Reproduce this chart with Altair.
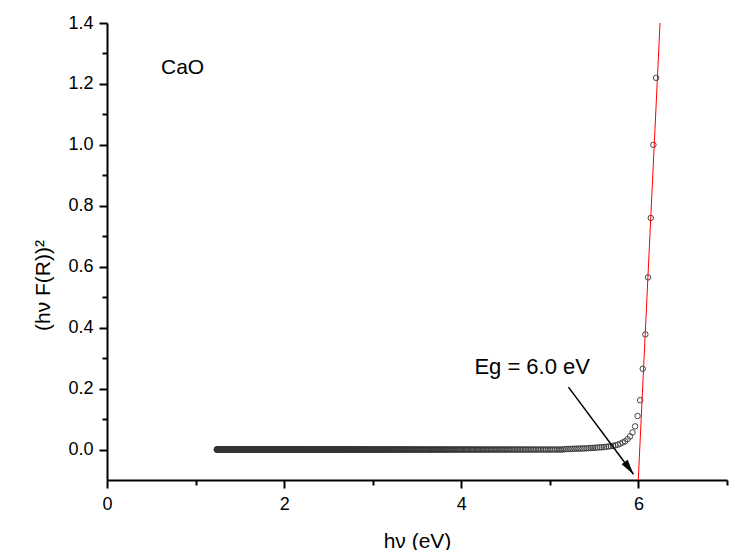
import altair as alt
import pandas as pd

# --- data ---
# resolvable points of the absorption edge (hv in eV, (hv F(R))^2)
tail_hv = [6.200, 6.169, 6.139, 6.108, 6.078, 6.049, 6.019, 5.990, 5.962, 5.933,
           5.905, 5.877, 5.849, 5.822, 5.794, 5.767, 5.741, 5.714, 5.688, 5.662,
           5.636, 5.611, 5.586, 5.561, 5.536, 5.511, 5.487, 5.463, 5.439, 5.415,
           5.391, 5.368, 5.345, 5.322, 5.299, 5.277, 5.254, 5.232, 5.210, 5.188, 5.167]
tail_y = [1.22, 1.00, 0.76, 0.565, 0.378, 0.265, 0.162, 0.110, 0.076, 0.056,
          0.043, 0.034, 0.027, 0.023, 0.019, 0.016, 0.014, 0.012, 0.011, 0.010,
          0.009, 0.008, 0.0075, 0.007, 0.0065, 0.006, 0.0055, 0.005, 0.0045, 0.004,
          0.0038, 0.0035, 0.0032, 0.003, 0.0028, 0.0025, 0.0023, 0.002, 0.0018, 0.0016, 0.0015]

# flat baseline: measured on a 1 nm wavelength grid (241..1000 nm), value ~0
baseline_nm = list(range(241, 1001))
baseline_hv = [round(1240.0 / w, 4) for w in baseline_nm]
baseline_y = [0.0] * len(baseline_nm)

# linear fit (red line) end points
fit_hv = [5.998, 6.244]
fit_y = [-0.1, 1.4]

# annotation arrow: start and tip
arrow_hv = [5.21, 5.944]
arrow_y = [0.205, -0.081]

# labels
label_text = ["CaO", "Eg = 6.0 eV"]
label_hv = [0.61, 5.453]
label_y = [1.231, 0.249]
label_align = ["left", "right"]

x_ticks = [0, 1, 2, 3, 4, 5, 6, 7]
y_ticks = [0.0, 0.1, 0.2, 0.3, 0.4, 0.5, 0.6, 0.7, 0.8, 0.9, 1.0, 1.1, 1.2, 1.3, 1.4]

FONT = "Liberation Sans"

points = pd.DataFrame({"hv": tail_hv + baseline_hv, "y": tail_y + baseline_y})
fit = pd.DataFrame({"hv": fit_hv, "y": fit_y})
arrow_line = pd.DataFrame({"hv": [arrow_hv[0]], "y": [arrow_y[0]],
                           "hv2": [arrow_hv[1]], "y2": [arrow_y[1]]})
arrow_tip = pd.DataFrame({"hv": [arrow_hv[1]], "y": [arrow_y[1]]})
labels = pd.DataFrame({"text": label_text, "hv": label_hv, "y": label_y, "align": label_align})

xscale = alt.Scale(domain=[0, 7], nice=False, zero=False)
yscale = alt.Scale(domain=[-0.1, 1.4], nice=False, zero=False)

xaxis = alt.Axis(
    values=x_ticks,
    labelExpr="datum.value % 2 == 0 ? datum.label : ''",
    tickSize={"condition": {"test": "datum.value % 2 == 0", "value": 8}, "value": 5},
    labelPadding=7,
    labelFontSize=18,
    labelFlush=False,
    titleFontSize=21,
    titleY=67,
    titleBaseline="alphabetic",
)
yaxis = alt.Axis(
    values=y_ticks,
    format=".1f",
    labelExpr="round(datum.value * 10) % 2 == 0 ? datum.label : ''",
    tickSize={"condition": {"test": "round(datum.value * 10) % 2 == 0", "value": 8}, "value": 5},
    labelPadding=6,
    labelFontSize=18,
    labelFlush=False,
    titleFontSize=21,
    titleX=-64,
    titleY=262,
    titleAngle=270,
    titleAlign="center",
    titleBaseline="middle",
)

X_TITLE = "hν (eV)"
Y_TITLE = "(hν F(R))²"


def xenc():
    return alt.X("hv:Q", scale=xscale, axis=xaxis, title=X_TITLE)


def yenc():
    return alt.Y("y:Q", scale=yscale, axis=yaxis, title=Y_TITLE)


pts = alt.Chart(points).mark_point(
    shape="circle", size=30, filled=False, stroke="#333333", strokeWidth=0.9, opacity=1
).encode(x=xenc(), y=yenc())

fit_line = alt.Chart(fit).mark_line(color="#ff0000", strokeWidth=1).encode(x=xenc(), y=yenc())

arr = alt.Chart(arrow_line).mark_rule(color="black", strokeWidth=1.5).encode(
    x=xenc(), y=yenc(), x2="hv2:Q", y2="y2:Q",
)

head = alt.Chart(arrow_tip).mark_point(
    shape="M0,0L-0.25,1L0.25,1Z", filled=True, size=900, angle=144,
    color="black", opacity=1, strokeWidth=0
).encode(x=xenc(), y=yenc())

txt_left = alt.Chart(labels[labels["align"] == "left"]).mark_text(
    align="left", baseline="alphabetic", font=FONT, fontSize=21, color="black"
).encode(x=xenc(), y=yenc(), text="text:N")

txt_right = alt.Chart(labels[labels["align"] == "right"]).mark_text(
    align="right", baseline="alphabetic", font=FONT, fontSize=22, color="black"
).encode(x=xenc(), y=yenc(), text="text:N")

chart = alt.layer(pts, fit_line, arr, head, txt_left, txt_right).properties(
    width=620,
    height=457,
    autosize=alt.AutoSizeParams(type="none"),
    padding={"left": 99, "top": 15, "right": 5, "bottom": 70},
    background="white",
).configure_view(
    stroke=None
).configure_axis(
    domainColor="black",
    domainWidth=2,
    tickColor="black",
    tickWidth=2,
    grid=False,
    labelFont=FONT,
    titleFont=FONT,
    labelColor="black",
    titleColor="black",
    titleFontWeight="normal",
)

chart.save("out.html", embed_options={"renderer": "svg", "actions": False})
